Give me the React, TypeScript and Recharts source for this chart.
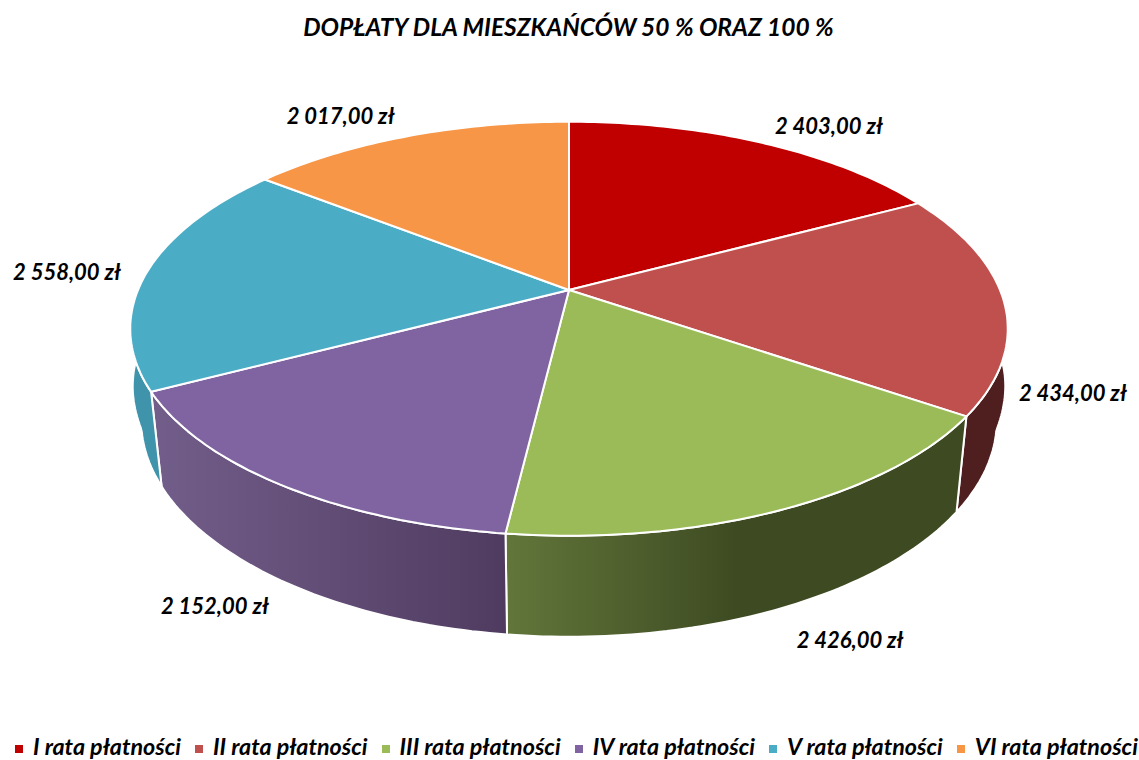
import React from "react";
import { PieChart, Pie, Legend } from "recharts";

const CHART_TITLE = "DOPŁATY DLA MIESZKAŃCÓW 50 % ORAZ 100 %";
const instalments = ["I rata płatności", "II rata płatności", "III rata płatności", "IV rata płatności", "V rata płatności", "VI rata płatności"];
const amounts = [2403, 2434, 2426, 2152, 2558, 2017];

const topColors = ["#c00000", "#c0504d", "#9bbb59", "#8064a2", "#4bacc6", "#f79646"];
const wallFills = ["#600000", "#4f1f1f", "url(#wallGreen)", "url(#wallPurple)", "#3f93aa", "#a0622c"];
// label nudges away from the rim, px
const labelNudgeX = [69, 69, 67, -65, -80, -67];
const labelNudgeY = [-17, 91, 130, 121, -1, -21];

const slices = instalments.map((name, i) => ({ name, value: amounts[i], fill: topColors[i] }));

// perspective of the tilted disc
const TILT = 0.187;
const SQUASH = 0.4635;
const BOTTOM_Y = 1.045;
const DEPTH = 90;

const RAD = Math.PI / 180;

function project(angle: number, r: number) {
  const u = Math.cos(angle * RAD);
  const v = -Math.sin(angle * RAD);
  const d = 1 - TILT * v;
  return { x: (r * u) / d, y: (r * SQUASH * v) / d };
}

function arc(start: number, end: number, r: number) {
  const n = Math.max(2, Math.ceil(Math.abs(end - start)));
  const angles = [];
  for (let i = 0; i <= n; i++) angles.push(start + ((end - start) * i) / n);
  return angles;
}

// the lower rim is narrower in front but reaches out to the sides near the tangent
function bottomScaleX(angle: number) {
  const v = Math.max(-0.2, -Math.sin(angle * RAD));
  return v >= 0.23 ? 0.975 : 0.975 + (0.23 - v) * 0.16;
}

function toPath(pts: { x: number; y: number }[]) {
  return "M" + pts.map((p) => `${p.x.toFixed(1)},${p.y.toFixed(1)}`).join("L") + "Z";
}

function TopFace(props: any) {
  const { cx, cy, outerRadius, startAngle, endAngle, fill } = props;
  const rim = arc(startAngle, endAngle, outerRadius).map((a) => project(a, outerRadius));
  const pts = [{ x: 0, y: 0 }, ...rim].map((p) => ({ x: p.x + cx, y: p.y + cy }));
  return <path d={toPath(pts)} fill={fill} stroke="#fff" strokeWidth={2} strokeLinejoin="round" />;
}

function WallFace(props: any) {
  const { cx, cy, outerRadius, startAngle, endAngle, index } = props;
  const angles = arc(startAngle, endAngle, outerRadius);
  const top = angles.map((a) => {
    const p = project(a, outerRadius);
    return { x: p.x + cx, y: p.y + cy };
  });
  const bottom = [...angles].reverse().map((a) => {
    const p = project(a, outerRadius);
    return { x: p.x * bottomScaleX(a) + cx, y: p.y * BOTTOM_Y + cy + DEPTH };
  });
  return <path d={toPath([...top, ...bottom])} fill={wallFills[index]} stroke="#fff" strokeWidth={2} strokeLinejoin="round" />;
}

function formatAmount(value: number) {
  const whole = String(value);
  return `${whole.slice(0, -3)} ${whole.slice(-3)},00 zł`;
}

function AmountLabel(props: any) {
  const { cx, cy, outerRadius, midAngle, index, value } = props;
  const p = project(midAngle, outerRadius);
  return (
    <text
      x={cx + p.x + labelNudgeX[index]}
      y={cy + p.y + labelNudgeY[index]}
      textAnchor="middle"
      dominantBaseline="central"
      fill="#000"
      fontFamily="Lato"
      fontWeight={700}
      fontStyle="italic"
      fontSize={22}
    >
      {formatAmount(value)}
    </text>
  );
}

export default function App() {
  return (
    <div style={{ position: "absolute", left: 0, top: 0, width: 1139, height: 760, overflow: "hidden", background: "#fff", fontFamily: "Lato" }}>
      <div style={{ position: "absolute", left: 0, top: 12, width: 1137, textAlign: "center", fontSize: 24.5, fontWeight: 700, fontStyle: "italic", color: "#000", lineHeight: "30px" }}>
        {CHART_TITLE}
      </div>
      <PieChart width={1139} height={760} margin={{ top: 0, right: 0, bottom: 0, left: 0 }}>
        <defs>
          <linearGradient id="wallGreen" x1="0" y1="0" x2="1" y2="0">
            <stop offset="0" stopColor="#62763a" />
            <stop offset="0.5" stopColor="#3e4b22" />
            <stop offset="1" stopColor="#3e4b22" />
          </linearGradient>
          <linearGradient id="wallPurple" x1="0" y1="0" x2="1" y2="0">
            <stop offset="0" stopColor="#725e8a" />
            <stop offset="1" stopColor="#503b60" />
          </linearGradient>
        </defs>
        <Pie
          data={slices}
          dataKey="value"
          nameKey="name"
          cx={569}
          cy={290}
          outerRadius={431}
          startAngle={90}
          endAngle={-270}
          legendType="none"
          shape={WallFace}
          isAnimationActive={false}
        />
        <Pie
          data={slices}
          dataKey="value"
          nameKey="name"
          cx={569}
          cy={290}
          outerRadius={431}
          startAngle={90}
          endAngle={-270}
          legendType="square"
          shape={TopFace}
          label={AmountLabel}
          labelLine={false}
          isAnimationActive={false}
        />
        <Legend
          verticalAlign="bottom"
          align="center"
          iconSize={8}
          iconType="square"
          wrapperStyle={{ bottom: 0, left: 15, width: 1124, fontSize: 23.3, fontWeight: 700, fontStyle: "italic", whiteSpace: "nowrap" }}
          formatter={(value: string) => <span style={{ color: "#000", marginLeft: 6, marginRight: 4 }}>{value}</span>}
        />
      </PieChart>
    </div>
  );
}
